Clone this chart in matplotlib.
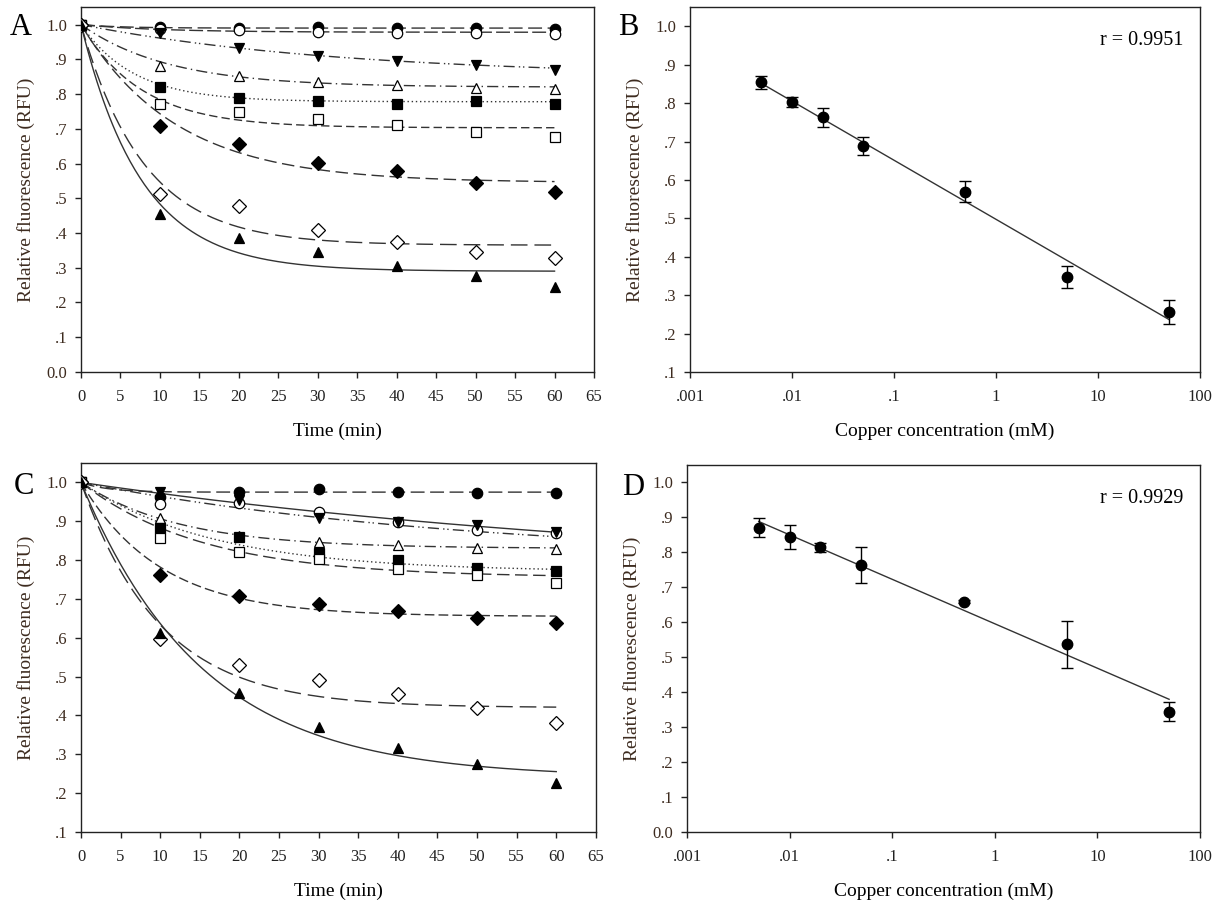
import matplotlib
matplotlib.use('Agg')
import matplotlib.pyplot as plt
import numpy as np
from matplotlib.ticker import FixedLocator, FuncFormatter, NullLocator

plt.rcParams['font.family'] = ['Liberation Serif', 'DejaVu Serif']

## time points (min)
time = [0, 10, 20, 30, 40, 50, 60]

## Panel A: relative fluorescence per series
a_fcirc = [1.0, 0.993, 0.99, 0.992, 0.99, 0.99, 0.988]
a_ocirc = [1.0, 0.988, 0.985, 0.978, 0.976, 0.976, 0.973]
a_ftridn = [1.0, 0.975, 0.932, 0.911, 0.894, 0.884, 0.870]
a_otri = [1.0, 0.880, 0.851, 0.836, 0.825, 0.818, 0.815]
a_fsq = [1.0, 0.820, 0.789, 0.780, 0.772, 0.780, 0.772]
a_osq = [1.0, 0.770, 0.748, 0.727, 0.710, 0.690, 0.675]
a_fdia = [1.0, 0.707, 0.656, 0.602, 0.579, 0.545, 0.519]
a_odia = [1.0, 0.512, 0.478, 0.409, 0.373, 0.344, 0.327]
a_ftri = [1.0, 0.456, 0.385, 0.344, 0.305, 0.275, 0.244]
## fitted decay curves (plateau, rate)
a_plateau = [0.99, 0.978, 0.85, 0.82, 0.778, 0.703, 0.545, 0.365, 0.29]
a_rate = [0.2, 0.1, 0.03, 0.09, 0.15, 0.13, 0.083, 0.125, 0.13]

## Panel C
c_fcirc = [1.0, 0.963, 0.975, 0.983, 0.976, 0.972, 0.972]
c_ocirc = [1.0, 0.944, 0.946, 0.923, 0.899, 0.878, 0.871]
c_ftridn = [1.0, 0.976, 0.955, 0.908, 0.899, 0.890, 0.873]
c_otri = [1.0, 0.908, 0.862, 0.847, 0.839, 0.830, 0.828]
c_fsq = [1.0, 0.882, 0.859, 0.817, 0.800, 0.779, 0.772]
c_osq = [1.0, 0.856, 0.822, 0.802, 0.776, 0.762, 0.742]
c_fdia = [1.0, 0.762, 0.708, 0.687, 0.669, 0.652, 0.637]
c_odia = [1.0, 0.596, 0.530, 0.491, 0.454, 0.418, 0.381]
c_ftri = [1.0, 0.613, 0.457, 0.369, 0.316, 0.276, 0.227]
c_plateau = [0.975, 0.80, 0.75, 0.83, 0.77, 0.755, 0.655, 0.42, 0.24]
c_rate = [0.3, 0.02, 0.012, 0.08, 0.06, 0.065, 0.1, 0.1, 0.065]

## Panels B and D: copper concentration (mM)
conc = [0.005, 0.01, 0.02, 0.05, 0.5, 5, 50]
b_mean = [0.854, 0.804, 0.763, 0.689, 0.570, 0.347, 0.257]
b_err = [0.016, 0.013, 0.025, 0.023, 0.027, 0.028, 0.031]
d_mean = [0.871, 0.843, 0.814, 0.764, 0.659, 0.537, 0.344]
d_err = [0.026, 0.034, 0.012, 0.052, 0.005, 0.067, 0.027]
b_r = 'r = 0.9951'
d_r = 'r = 0.9929'

## marker styles: (marker, filled)
markers = [('o', True), ('o', False), ('v', True), ('^', False), ('s', True),
           ('s', False), ('D', True), ('D', False), ('^', True)]
## line styles for the fits (order as the series)
a_ls = [(0, (10, 4)), (0, (10, 3)), (0, (8, 3, 1, 2, 1, 3)), (0, (8, 3, 1, 3)),
        (0, (1, 2)), (0, (6, 3)), (0, (9, 4)), (0, (12, 5)), '-']
c_ls = [(0, (10, 4)), (0, (8, 3, 1, 2, 1, 3)), '-', (0, (8, 3, 1, 3)),
        (0, (1, 2)), (0, (9, 4)), (0, (7, 3)), (0, (12, 5)), '-']

lab_col = '#3d2b1f'
fs_tick = 12
fs_lab = 14


def yfmt(v, pos):
    if abs(v) < 1e-9:
        return '0.0'
    if abs(v - 1) < 1e-9:
        return '1.0'
    return ('%.1f' % v)[1:]


def style_axes(ax, ymin, letter, lx, ly):
    ax.set_ylim(ymin, 1.05)
    ax.yaxis.set_major_locator(FixedLocator(np.arange(ymin, 1.001, 0.1)))
    ax.yaxis.set_major_formatter(FuncFormatter(yfmt))
    ax.tick_params(direction='out', length=4, width=1, labelsize=fs_tick,
                   top=False, right=False, colors='#222222')
    ax.tick_params(axis='x', pad=8)
    ax.tick_params(axis='y', pad=6, labelcolor=lab_col)
    for s in ax.spines.values():
        s.set_linewidth(1.0)
        s.set_color('#222222')
    ax.set_ylabel('Relative fluorescence (RFU)', fontsize=fs_lab, color=lab_col, labelpad=8)
    ax.text(lx, ly, letter, transform=ax.transAxes, fontsize=22, ha='left', va='top')


def time_panel(ax, series, plateaus, rates, styles, ymin, letter, lx, ly):
    tt = np.linspace(0, 60, 300)
    for y, p, k, ls in zip(series, plateaus, rates, styles):
        fit = p + (1 - p) * np.exp(-k * tt)
        ax.plot(tt, fit, color='#333333', lw=1.0, ls=ls, zorder=2)
    for y, (m, filled) in zip(series, markers):
        ms = 7 if m == 'D' else 7.5
        ax.plot(time, y, ls='none', marker=m, ms=ms, mec='black', mew=0.9,
                mfc='black' if filled else 'white', zorder=3)
    ax.set_xlim(0, 65)
    ax.set_xticks(np.arange(0, 66, 5))
    ax.set_xlabel('Time (min)', fontsize=fs_lab, labelpad=13)
    style_axes(ax, ymin, letter, lx, ly)


def conc_panel(ax, mean, err, rtxt, ymin, letter, lx, ly):
    lx10 = np.log10(conc)
    slope, icpt = np.polyfit(lx10, mean, 1)
    xx = np.array([conc[0], conc[-1]])
    ax.plot(xx, icpt + slope * np.log10(xx), color='#333333', lw=1.0, zorder=2)
    ax.errorbar(conc, mean, yerr=err, fmt='o', ms=7.5, color='black',
                ecolor='black', elinewidth=1, capsize=4.5, capthick=1, zorder=3)
    ax.set_xscale('log')
    ax.set_xlim(0.001, 100)
    ax.xaxis.set_major_locator(FixedLocator([0.001, 0.01, 0.1, 1, 10, 100]))
    ax.xaxis.set_minor_locator(NullLocator())
    ax.set_xticklabels(['.001', '.01', '.1', '1', '10', '100'])
    ax.set_xlabel('Copper concentration (mM)', fontsize=fs_lab, labelpad=13)
    ax.text(0.967, 0.91, rtxt, transform=ax.transAxes, ha='right', va='center', fontsize=14.5)
    style_axes(ax, ymin, letter, lx, ly)


fig = plt.figure(figsize=(12.2, 9.05), dpi=100)
axA = fig.add_axes([0.0664, 0.589, 0.4205, 0.403])
axB = fig.add_axes([0.5656, 0.589, 0.418, 0.403])
axC = fig.add_axes([0.0664, 0.0807, 0.422, 0.4077])
axD = fig.add_axes([0.5631, 0.0807, 0.4205, 0.4055])

time_panel(axA, [a_fcirc, a_ocirc, a_ftridn, a_otri, a_fsq, a_osq, a_fdia, a_odia, a_ftri],
           a_plateau, a_rate, a_ls, 0.0, 'A', -0.138, 0.984)
time_panel(axC, [c_fcirc, c_ocirc, c_ftridn, c_otri, c_fsq, c_osq, c_fdia, c_odia, c_ftri],
           c_plateau, c_rate, c_ls, 0.1, 'C', -0.13, 0.976)
conc_panel(axB, b_mean, b_err, b_r, 0.1, 'B', -0.141, 0.984)
conc_panel(axD, d_mean, d_err, d_r, 0.0, 'D', -0.127, 0.978)

fig.savefig('out.png', dpi=100)
